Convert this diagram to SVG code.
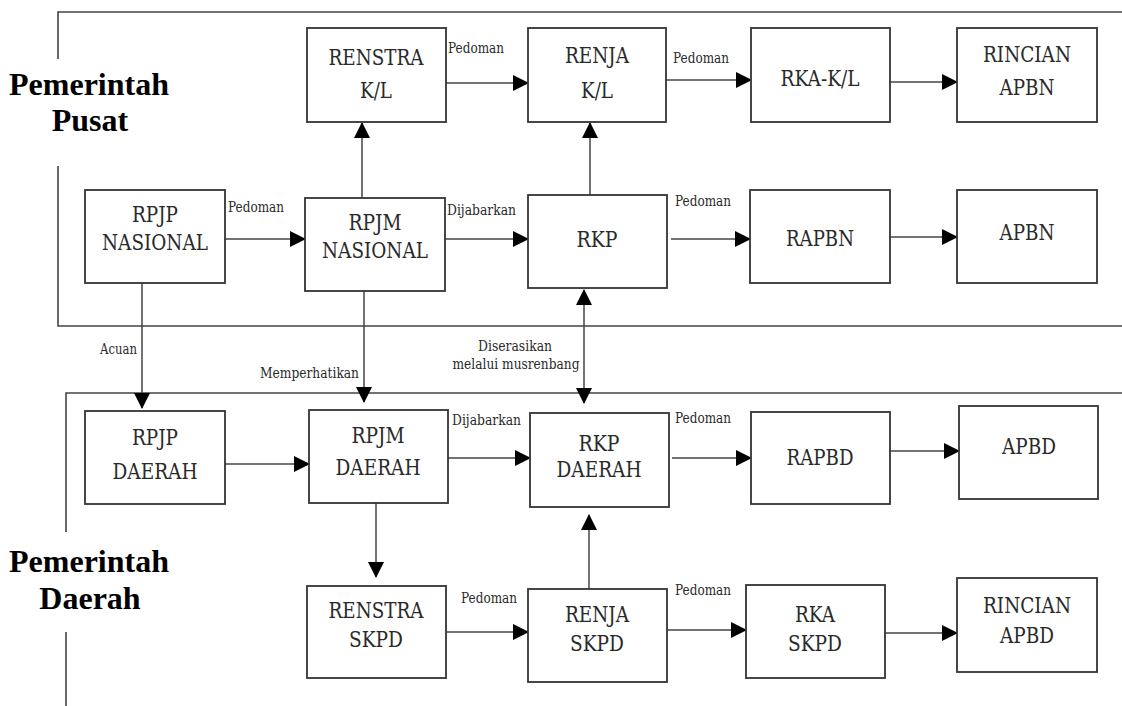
<svg xmlns="http://www.w3.org/2000/svg" width="1122" height="706" viewBox="0 0 1122 706">
<style>
.bg{fill:#fff}
.frame{stroke:#444;stroke-width:1.6;fill:none}
.box{fill:#fff;stroke:#333;stroke-width:1.8}
.t{font-family:"DejaVu Serif",serif;font-size:23px;fill:#2a2a2a;text-anchor:middle}
.l{font-family:"DejaVu Serif",serif;font-size:14px;fill:#2a2a2a}
.lc{text-anchor:middle}
.c{stroke:#444;stroke-width:1.5;fill:none;marker-end:url(#ah)}
.d{marker-start:url(#ah)}
.reg{font-family:"Liberation Serif",serif;font-weight:bold;font-size:32px;fill:#000;text-anchor:middle}
</style>
<defs>
<marker id="ah" markerUnits="userSpaceOnUse" markerWidth="16" markerHeight="16" refX="15" refY="8" orient="auto-start-reverse">
<path d="M0,0 L16,8 L0,16 z" fill="#000"/>
</marker>
</defs>
<rect class="bg" width="1122" height="706"/>
<g id="frames">
<path class="frame" d="M1122,12 H58 V59 M58,166 V326 H1122"/>
<path class="frame" d="M1122,393 H66 V532 M66,632 V706"/>
</g>
<g id="region-labels">
<text class="reg" x="89" y="95">Pemerintah</text>
<text class="reg" x="90" y="131">Pusat</text>
<text class="reg" x="89" y="572">Pemerintah</text>
<text class="reg" x="90" y="609">Daerah</text>
</g>
<g id="connectors">
<line class="c" x1="446" y1="83" x2="528" y2="83"/>
<line class="c" x1="666" y1="80" x2="751" y2="80"/>
<line class="c" x1="890" y1="82" x2="957" y2="82"/>
<line class="c" x1="225" y1="239" x2="305" y2="239"/>
<line class="c" x1="445" y1="239" x2="528" y2="239"/>
<line class="c" x1="671" y1="239" x2="750" y2="239"/>
<line class="c" x1="890" y1="237" x2="957" y2="237"/>
<line class="c" x1="362" y1="198" x2="362" y2="123"/>
<line class="c" x1="590" y1="195" x2="590" y2="123"/>
<line class="c" x1="142" y1="283" x2="142" y2="408"/>
<line class="c" x1="364" y1="291" x2="364" y2="402"/>
<line class="c d" x1="584" y1="290" x2="584" y2="403"/>
<line class="c" x1="225" y1="464" x2="309" y2="464"/>
<line class="c" x1="448" y1="458" x2="530" y2="458"/>
<line class="c" x1="672" y1="458" x2="751" y2="458"/>
<line class="c" x1="890" y1="451" x2="959" y2="451"/>
<line class="c" x1="376" y1="503" x2="376" y2="577"/>
<line class="c" x1="589" y1="589" x2="589" y2="515"/>
<line class="c" x1="446" y1="632" x2="528" y2="632"/>
<line class="c" x1="667" y1="630" x2="746" y2="630"/>
<line class="c" x1="885" y1="633" x2="957" y2="633"/>
<text class="l" x="448" y="53" textLength="56" lengthAdjust="spacingAndGlyphs">Pedoman</text>
<text class="l" x="673" y="63" textLength="56" lengthAdjust="spacingAndGlyphs">Pedoman</text>
<text class="l" x="228" y="212" textLength="56" lengthAdjust="spacingAndGlyphs">Pedoman</text>
<text class="l" x="447" y="215" textLength="69" lengthAdjust="spacingAndGlyphs">Dijabarkan</text>
<text class="l" x="675" y="206" textLength="56" lengthAdjust="spacingAndGlyphs">Pedoman</text>
<text class="l" x="100" y="354" textLength="37" lengthAdjust="spacingAndGlyphs">Acuan</text>
<text class="l" x="260" y="378" textLength="99" lengthAdjust="spacingAndGlyphs">Memperhatikan</text>
<text class="l lc" x="515" y="351" textLength="74" lengthAdjust="spacingAndGlyphs">Diserasikan</text>
<text class="l lc" x="516" y="369" textLength="127" lengthAdjust="spacingAndGlyphs">melalui musrenbang</text>
<text class="l" x="452" y="425" textLength="69" lengthAdjust="spacingAndGlyphs">Dijabarkan</text>
<text class="l" x="675" y="423" textLength="56" lengthAdjust="spacingAndGlyphs">Pedoman</text>
<text class="l" x="461" y="603" textLength="56" lengthAdjust="spacingAndGlyphs">Pedoman</text>
<text class="l" x="675" y="595" textLength="56" lengthAdjust="spacingAndGlyphs">Pedoman</text>
</g>
<g id="renstra-kl"><rect class="box" x="307" y="28" width="139" height="94"/><text class="t" x="376" y="65" textLength="95" lengthAdjust="spacingAndGlyphs">RENSTRA</text><text class="t" x="376" y="98" textLength="32" lengthAdjust="spacingAndGlyphs">K/L</text></g>
<g id="renja-kl"><rect class="box" x="528" y="28" width="138" height="94"/><text class="t" x="597" y="63" textLength="64" lengthAdjust="spacingAndGlyphs">RENJA</text><text class="t" x="597" y="98" textLength="32" lengthAdjust="spacingAndGlyphs">K/L</text></g>
<g id="rka-kl"><rect class="box" x="751" y="28" width="139" height="94"/><text class="t" x="820" y="86" textLength="79" lengthAdjust="spacingAndGlyphs">RKA-K/L</text></g>
<g id="rincian-apbn"><rect class="box" x="957" y="28" width="140" height="94"/><text class="t" x="1027" y="62" textLength="88" lengthAdjust="spacingAndGlyphs">RINCIAN</text><text class="t" x="1027" y="95" textLength="55" lengthAdjust="spacingAndGlyphs">APBN</text></g>
<g id="rpjp-nasional"><rect class="box" x="85" y="190" width="140" height="93"/><text class="t" x="155" y="222" textLength="46" lengthAdjust="spacingAndGlyphs">RPJP</text><text class="t" x="155" y="250" textLength="106" lengthAdjust="spacingAndGlyphs">NASIONAL</text></g>
<g id="rpjm-nasional"><rect class="box" x="305" y="198" width="140" height="93"/><text class="t" x="375" y="230" textLength="53" lengthAdjust="spacingAndGlyphs">RPJM</text><text class="t" x="375" y="258" textLength="106" lengthAdjust="spacingAndGlyphs">NASIONAL</text></g>
<g id="rkp"><rect class="box" x="528" y="195" width="139" height="93"/><text class="t" x="597" y="247" textLength="41" lengthAdjust="spacingAndGlyphs">RKP</text></g>
<g id="rapbn"><rect class="box" x="750" y="190" width="140" height="93"/><text class="t" x="820" y="246" textLength="68" lengthAdjust="spacingAndGlyphs">RAPBN</text></g>
<g id="apbn"><rect class="box" x="957" y="190" width="140" height="93"/><text class="t" x="1027" y="240" textLength="55" lengthAdjust="spacingAndGlyphs">APBN</text></g>
<g id="rpjp-daerah"><rect class="box" x="85" y="411" width="140" height="93"/><text class="t" x="155" y="445" textLength="46" lengthAdjust="spacingAndGlyphs">RPJP</text><text class="t" x="155" y="479" textLength="85" lengthAdjust="spacingAndGlyphs">DAERAH</text></g>
<g id="rpjm-daerah"><rect class="box" x="309" y="410" width="139" height="93"/><text class="t" x="378" y="443" textLength="53" lengthAdjust="spacingAndGlyphs">RPJM</text><text class="t" x="378" y="475" textLength="85" lengthAdjust="spacingAndGlyphs">DAERAH</text></g>
<g id="rkp-daerah"><rect class="box" x="530" y="413" width="139" height="94"/><text class="t" x="599" y="451" textLength="41" lengthAdjust="spacingAndGlyphs">RKP</text><text class="t" x="599" y="477" textLength="85" lengthAdjust="spacingAndGlyphs">DAERAH</text></g>
<g id="rapbd"><rect class="box" x="751" y="412" width="139" height="92"/><text class="t" x="820" y="465" textLength="67" lengthAdjust="spacingAndGlyphs">RAPBD</text></g>
<g id="apbd"><rect class="box" x="959" y="406" width="139" height="93"/><text class="t" x="1029" y="454" textLength="54" lengthAdjust="spacingAndGlyphs">APBD</text></g>
<g id="renstra-skpd"><rect class="box" x="307" y="586" width="139" height="92"/><text class="t" x="376" y="618" textLength="95" lengthAdjust="spacingAndGlyphs">RENSTRA</text><text class="t" x="376" y="647" textLength="54" lengthAdjust="spacingAndGlyphs">SKPD</text></g>
<g id="renja-skpd"><rect class="box" x="528" y="589" width="139" height="93"/><text class="t" x="597" y="622" textLength="64" lengthAdjust="spacingAndGlyphs">RENJA</text><text class="t" x="597" y="651" textLength="54" lengthAdjust="spacingAndGlyphs">SKPD</text></g>
<g id="rka-skpd"><rect class="box" x="746" y="585" width="139" height="93"/><text class="t" x="815" y="622" textLength="40" lengthAdjust="spacingAndGlyphs">RKA</text><text class="t" x="815" y="651" textLength="54" lengthAdjust="spacingAndGlyphs">SKPD</text></g>
<g id="rincian-apbd"><rect class="box" x="957" y="578" width="140" height="94"/><text class="t" x="1027" y="613" textLength="88" lengthAdjust="spacingAndGlyphs">RINCIAN</text><text class="t" x="1027" y="643" textLength="54" lengthAdjust="spacingAndGlyphs">APBD</text></g>
</svg>
